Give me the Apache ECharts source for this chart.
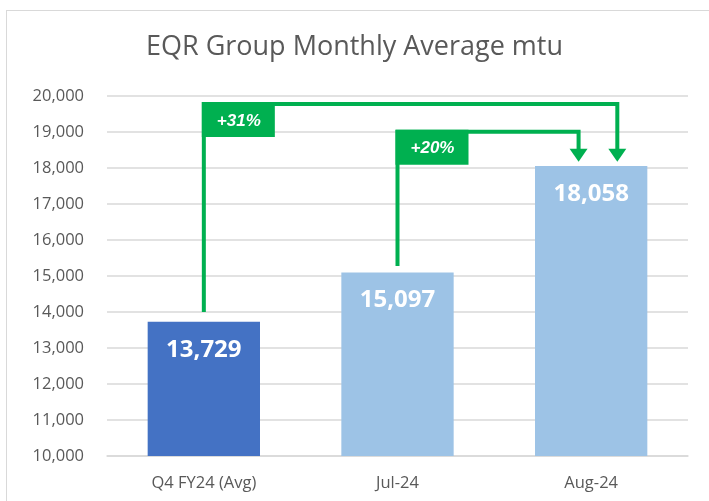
<!DOCTYPE html>
<html lang="en">

<head>
    <meta charset="UTF-8">
    <title>EQR Group Monthly Average mtu</title>
    <script src="https://cdn.jsdelivr.net/npm/echarts@6.0.0/dist/echarts.min.js"></script>
    <style>
        body { margin: 0; background: #fff; overflow: hidden; }
        #frame { position: absolute; left: 6px; top: 10px; width: 800px; height: 600px; border: 1px solid #d9d9d9; }
        #chart { position: absolute; left: 0; top: 0; width: 709px; height: 501px; }
    </style>
</head>

<body>
    <div id="frame"></div>
    <div id="chart"></div>
    <script>
        // chart data
        var categories = ['Q4 FY24 (Avg)', 'Jul-24', 'Aug-24'];
        var mtuValues = [13729, 15097, 18058];
        var barColors = ['#4472C4', '#9DC3E6', '#9DC3E6'];

        // growth call-outs (from bar -> to bar)
        var growthLabels = ['+31%', '+20%'];
        var growthFrom = [0, 1];
        var growthTo = [2, 2];

        // bracket layout in axis units
        var bracketStart = [14000, 15280];
        var bracketTop = [19780, 19010];
        var bracketShift = [0.135, -0.065]; // fraction of a category band
        var arrowTip = 18175;

        var green = '#00B050';
        var gray = '#595959';

        function renderBracket(params, api) {
            var i = params.dataIndex;
            var band = api.size([1, 0])[0];
            var start = api.coord([growthFrom[i], bracketStart[i]]);
            var top = api.coord([growthFrom[i], bracketTop[i]]);
            var endX = api.coord([growthTo[i], bracketTop[i]])[0] + band * bracketShift[i];
            var tipY = api.coord([growthTo[i], arrowTip])[1];
            var head = 13;
            return {
                type: 'group',
                children: [{
                    type: 'polyline',
                    shape: { points: [[start[0], start[1]], [top[0], top[1]], [endX, top[1]], [endX, tipY - head + 1]] },
                    style: { stroke: green, lineWidth: 4, fill: null, lineJoin: 'miter' }
                }, {
                    type: 'polygon',
                    shape: { points: [[endX - 9, tipY - head], [endX + 9, tipY - head], [endX, tipY]] },
                    style: { fill: green }
                }, {
                    type: 'rect',
                    shape: { x: top[0] - 2, y: top[1] - 2, width: 73, height: 35 },
                    style: { fill: green }
                }, {
                    type: 'text',
                    style: {
                        text: growthLabels[i], x: top[0] + 35, y: top[1] + 17,
                        fill: '#fff', font: 'italic bold 17px "Liberation Sans", Arial',
                        align: 'center', verticalAlign: 'middle'
                    }
                }]
            };
        }

        var myChart = echarts.init(document.getElementById('chart'));
        var option = {
            animation: false,
            title: {
                text: 'EQR Group Monthly Average mtu',
                left: 'center',
                top: 29,
                textStyle: { color: gray, fontSize: 27, fontWeight: 'normal', fontFamily: 'Open Sans' }
            },
            grid: { left: 107, right: 21, top: 96, bottom: 45 },
            xAxis: {
                type: 'category',
                data: categories,
                axisLine: { lineStyle: { color: '#d9d9d9', width: 1.5 } },
                axisTick: { show: false },
                axisLabel: { color: gray, fontSize: 16.5, margin: 19, fontFamily: 'Open Sans' }
            },
            yAxis: {
                type: 'value',
                min: 10000,
                max: 20000,
                interval: 1000,
                axisLabel: {
                    color: gray, fontSize: 16.5, margin: 23, fontFamily: 'Open Sans',
                    formatter: function (v) { return v.toLocaleString('en-US'); }
                },
                splitLine: { lineStyle: { color: '#d9d9d9', width: 1.5 } }
            },
            series: [{
                type: 'bar',
                barWidth: '58%',
                data: mtuValues.map(function (v, i) {
                    return { value: v, itemStyle: { color: barColors[i] } };
                }),
                label: {
                    show: true,
                    position: 'insideTop',
                    distance: 16,
                    color: '#fff',
                    fontSize: 24,
                    fontWeight: 'bold',
                    fontFamily: 'Open Sans',
                    formatter: function (p) { return p.value.toLocaleString('en-US'); }
                }
            }, {
                type: 'custom',
                renderItem: renderBracket,
                data: growthLabels.map(function (l, i) { return [growthFrom[i], bracketTop[i]]; }),
                z: 5
            }]
        };
        myChart.setOption(option);
    </script>
</body>

</html>
